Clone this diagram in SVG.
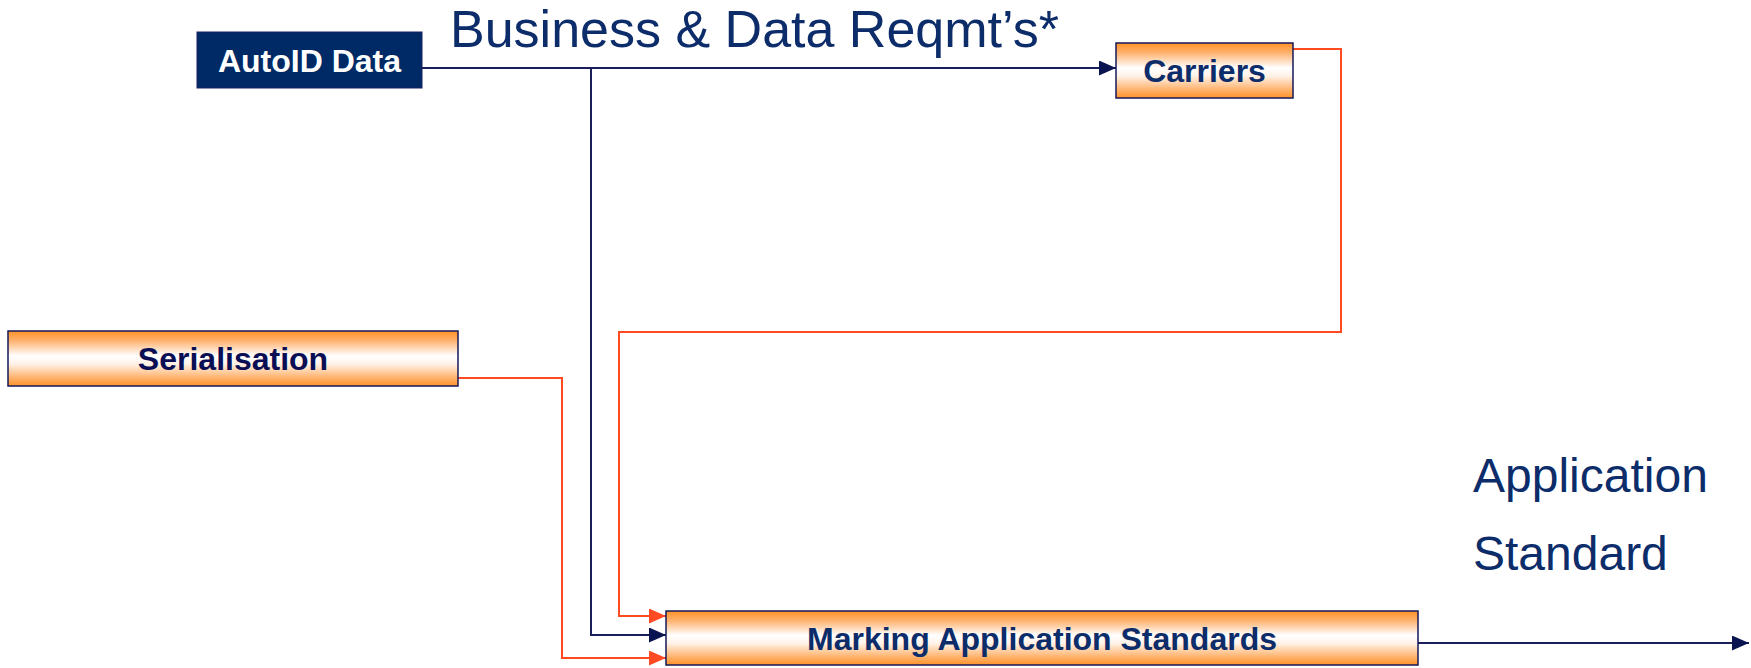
<svg xmlns="http://www.w3.org/2000/svg" width="1751" height="668" viewBox="0 0 1751 668">
  <style>
    .box { fill: url(#orangeBand); stroke: #14185a; stroke-width: 1.5; }
    .dark { fill: #002a66; stroke: #1a2060; stroke-width: 1; }
    .lbl { font-family: "Liberation Sans", Arial, sans-serif; font-weight: bold; font-size: 32px; fill: #0c2c6a; text-anchor: middle; }
    .big { font-family: "Liberation Sans", Arial, sans-serif; fill: #0c2c6a; }
    .navy { fill: none; stroke: #1a1f5c; stroke-width: 2; }
    .red { fill: none; stroke: #ff4a22; stroke-width: 2; }
  </style>
  <defs>
    <linearGradient id="orangeBand" x1="0" y1="0" x2="0" y2="1">
      <stop offset="0" stop-color="#ff9228"/>
      <stop offset="0.18" stop-color="#ffb370"/>
      <stop offset="0.45" stop-color="#ffffff"/>
      <stop offset="0.6" stop-color="#fff2e8"/>
      <stop offset="0.85" stop-color="#ffb26c"/>
      <stop offset="1" stop-color="#ff9228"/>
    </linearGradient>
    <marker id="arrowNavy" markerUnits="userSpaceOnUse" markerWidth="17" markerHeight="15" refX="17" refY="7.5" orient="auto">
      <path d="M0,0 L17,7.5 L0,15 Z" fill="#0a1450"/>
    </marker>
    <marker id="arrowRed" markerUnits="userSpaceOnUse" markerWidth="17" markerHeight="15" refX="17" refY="7.5" orient="auto">
      <path d="M0,0 L17,7.5 L0,15 Z" fill="#ff4a22"/>
    </marker>
  </defs>

  <rect width="1751" height="668" fill="#ffffff"/>

  <!-- captions -->
  <text class="big" x="450" y="47" font-size="52">Business &amp; Data Reqmt’s*</text>
  <text class="big" x="1473" y="492" font-size="48">Application</text>
  <text class="big" x="1473" y="570" font-size="48">Standard</text>

  <!-- connectors -->
  <g id="connectors">
    <path class="navy" d="M422,68 H1116" marker-end="url(#arrowNavy)"/>
    <path class="navy" d="M591,68 V635 H666" marker-end="url(#arrowNavy)"/>
    <path class="red" d="M1293,49 H1341 V332 H619 V616 H666" marker-end="url(#arrowRed)"/>
    <path class="red" d="M458,378 H562 V658 H666" marker-end="url(#arrowRed)"/>
    <path class="navy" d="M1414,643 H1749" stroke="#0c2c6a" stroke-width="2.5" marker-end="url(#arrowNavy)"/>
  </g>

  <g id="autoid-data">
    <rect class="dark" x="197" y="32" width="225" height="56"/>
    <text class="lbl" x="309.5" y="72" style="fill:#ffffff">AutoID Data</text>
  </g>

  <g id="carriers">
    <rect class="box" x="1116" y="43" width="177" height="55"/>
    <text class="lbl" x="1204.5" y="82">Carriers</text>
  </g>

  <g id="serialisation">
    <rect class="box" x="8" y="331" width="450" height="55"/>
    <text class="lbl" x="233" y="370" style="fill:#0a0f55">Serialisation</text>
  </g>

  <g id="marking-application-standards">
    <rect class="box" x="666" y="611" width="752" height="54"/>
    <text class="lbl" x="1042" y="650">Marking Application Standards</text>
  </g>
</svg>
